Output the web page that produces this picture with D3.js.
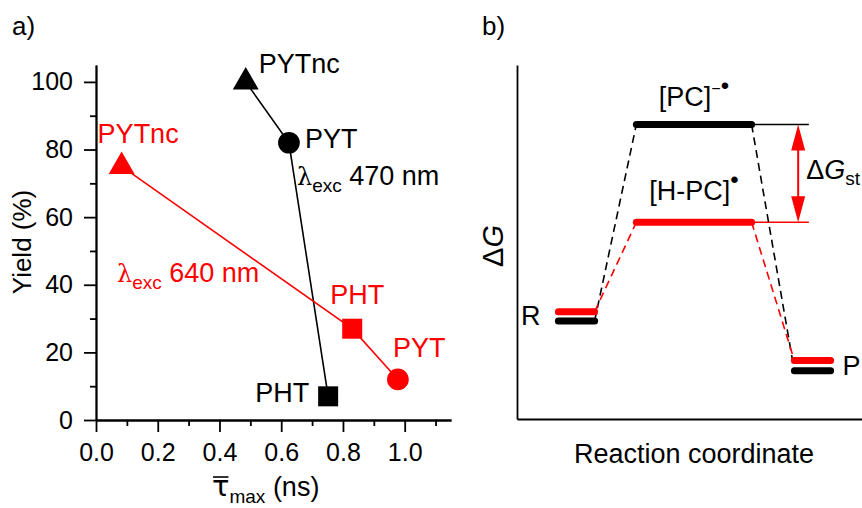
<!DOCTYPE html>
<html>
<head>
<meta charset="utf-8">
<script src="https://cdn.jsdelivr.net/npm/d3@7"></script>
<style>
  body { margin: 0; background: #fff; }
  svg { font-family: "Liberation Sans", Arial, sans-serif; }
  .axis path, .axis line { stroke: #000; stroke-width: 1.8px; }
  .axis text { font-size: 25px; fill: #000; font-family: "Liberation Sans", Arial, sans-serif; }
</style>
</head>
<body>
<svg id="chart" width="862" height="508"></svg>
<script>
// panel a) yield vs mean lifetime
var names470 = ["PYTnc", "PYT", "PHT"];
var tau470 = [0.485, 0.625, 0.752];
var yield470 = [100, 82, 7];

var names640 = ["PYTnc", "PHT", "PYT"];
var tau640 = [0.083, 0.83, 0.978];
var yield640 = [75, 27, 12];

var xMajor = [0, 0.2, 0.4, 0.6, 0.8, 1.0];
var xMinor = [0.1, 0.3, 0.5, 0.7, 0.9, 1.1];
var yMajor = [0, 20, 40, 60, 80, 100];
var yMinor = [10, 30, 50, 70, 90];

// panel b) energy diagram (schematic)
var stageNames = ["R", "I", "P"];
var stageStart = [0.12, 0.346, 0.804];
var stageEnd = [0.225, 0.68, 0.909];
var energyBlack = [27.7, 83.2, 13.6];
var energyRed = [30.3, 55.6, 16.5];

var svg = d3.select("#chart");

// ---------- panel a ----------
var x = d3.scaleLinear().domain([0, 1.15]).range([96, 451]);
var y = d3.scaleLinear().domain([0, 105]).range([420, 65]);

var ga = svg.append("g");

ga.append("g").attr("class", "axis")
    .attr("transform", "translate(0,420)")
    .call(d3.axisBottom(x).tickValues(xMinor).tickSize(6).tickSizeOuter(0).tickFormat(""));
ga.append("g").attr("class", "axis")
    .attr("transform", "translate(0,420)")
    .call(d3.axisBottom(x).tickValues(xMajor).tickSize(12).tickSizeOuter(0)
        .tickPadding(11).tickFormat(d3.format(".1f")));
ga.append("g").attr("class", "axis")
    .attr("transform", "translate(96,0)")
    .call(d3.axisLeft(y).tickValues(yMinor).tickSize(6).tickSizeOuter(0).tickFormat(""));
ga.append("g").attr("class", "axis")
    .attr("transform", "translate(96,0)")
    .call(d3.axisLeft(y).tickValues(yMajor).tickSize(12).tickSizeOuter(0).tickPadding(11));

// axis titles
ga.append("text")
    .attr("transform", "translate(31,242) rotate(-90)")
    .attr("text-anchor", "middle")
    .style("font-size", "26px")
    .text("Yield (%)");

var xt = ga.append("text")
    .attr("x", 212).attr("y", 496)
    .style("font-size", "27px");
xt.append("tspan").style("font-family", "'DejaVu Sans', sans-serif").style("font-size", "29px").text("\u03C4");
xt.append("tspan").attr("dy", 7).style("font-size", "19px").text("max");
xt.append("tspan").attr("dy", -7).text(" (ns)");
// overline on tau
var tb = xt.node().getExtentOfChar(0);
ga.append("line")
    .attr("x1", tb.x + 1).attr("x2", tb.x + tb.width - 1)
    .attr("y1", 477).attr("y2", 477)
    .attr("stroke", "#000").attr("stroke-width", 1.6);

ga.append("text").attr("x", 12).attr("y", 35)
    .style("font-size", "26px").text("a)");

var shapeOf = {
    PYTnc: d3.symbol().type(d3.symbolTriangle).size(290),
    PYT: d3.symbol().type(d3.symbolCircle).size(370),
    PHT: d3.symbol().type(d3.symbolSquare).size(400)
};

function drawSeries(names, taus, ylds, color, labelOff) {
    var pts = names.map(function(n, i) { return {name: n, t: taus[i], v: ylds[i]}; });
    ga.append("path")
        .datum(pts)
        .attr("fill", "none")
        .attr("stroke", color)
        .attr("stroke-width", 1.6)
        .attr("d", d3.line().x(function(d) { return x(d.t); }).y(function(d) { return y(d.v); }));
    ga.selectAll(null).data(pts).enter().append("path")
        .attr("transform", function(d) { return "translate(" + x(d.t) + "," + y(d.v) + ")"; })
        .attr("d", function(d) { return shapeOf[d.name](); })
        .attr("fill", color);
    ga.selectAll(null).data(pts).enter().append("text")
        .attr("x", function(d, i) { return x(d.t) + labelOff[i][0]; })
        .attr("y", function(d, i) { return y(d.v) + labelOff[i][1]; })
        .attr("text-anchor", function(d, i) { return labelOff[i][2]; })
        .attr("fill", color)
        .style("font-size", "27px")
        .text(function(d) { return d.name; });
}

drawSeries(names470, tau470, yield470, "#000",
    [[13, -9, "start"], [16, 5, "start"], [-19, 6, "end"]]);
drawSeries(names640, tau640, yield640, "#ff0000",
    [[-24, -23, "start"], [-22, -25, "start"], [-5, -22, "start"]]);

function lambdaLabel(px, py, nm, color) {
    var t = ga.append("text").attr("x", px).attr("y", py)
        .attr("fill", color).style("font-size", "27px");
    t.append("tspan").style("font-family", "'DejaVu Serif', 'Liberation Serif', serif")
        .style("font-size", "24px").text("\u03BB");
    t.append("tspan").attr("dy", 7).style("font-size", "19px").text("exc");
    t.append("tspan").attr("dy", -7).text(" " + nm + " nm");
}
lambdaLabel(297, 185, 470, "#000");
lambdaLabel(117, 282, 640, "#ff0000");

// ---------- panel b ----------
var xb = d3.scaleLinear().domain([0, 1]).range([517, 862]);
var yb = d3.scaleLinear().domain([0, 100]).range([419, 65]);
var gb = svg.append("g");

gb.append("g").attr("class", "axis")
    .attr("transform", "translate(0,419)")
    .call(d3.axisBottom(xb).tickValues([]).tickSizeOuter(0));
gb.append("g").attr("class", "axis")
    .attr("transform", "translate(517,0)")
    .call(d3.axisLeft(yb).tickValues([]).tickSizeOuter(0));

gb.append("text").attr("x", 482).attr("y", 35)
    .style("font-size", "26px").text("b)");

var dg = gb.append("text")
    .attr("transform", "translate(503,246) rotate(-90)")
    .attr("text-anchor", "middle")
    .style("font-size", "29px");
dg.append("tspan").text("\u0394");
dg.append("tspan").style("font-style", "italic").text("G");

gb.append("text").attr("x", 694).attr("y", 463)
    .attr("text-anchor", "middle")
    .style("font-size", "27px")
    .text("Reaction coordinate");

// reference lines from the intermediate levels out to the arrow
var xRef = 0.846;
[[energyBlack[1], "#000"], [energyRed[1], "#ff0000"]].forEach(function(r) {
    gb.append("line")
        .attr("x1", xb(stageEnd[1])).attr("x2", xb(xRef))
        .attr("y1", yb(r[0])).attr("y2", yb(r[0]))
        .attr("stroke", r[1]).attr("stroke-width", 1.5);
});

function drawProfile(en, color) {
    // dashed connectors
    for (var i = 0; i < en.length - 1; i++) {
        gb.append("line")
            .attr("x1", xb(stageEnd[i])).attr("y1", yb(en[i]))
            .attr("x2", xb(stageStart[i + 1])).attr("y2", yb(en[i + 1]))
            .attr("stroke", color).attr("stroke-width", 1.6)
            .attr("stroke-dasharray", "8,5");
    }
    gb.selectAll(null).data(en).enter().append("line")
        .attr("x1", function(d, i) { return xb(stageStart[i]); })
        .attr("x2", function(d, i) { return xb(stageEnd[i]); })
        .attr("y1", function(d) { return yb(d); })
        .attr("y2", function(d) { return yb(d); })
        .attr("stroke", color).attr("stroke-width", 7)
        .attr("stroke-linecap", "round");
}
drawProfile(energyBlack, "#000");
drawProfile(energyRed, "#ff0000");

// double arrow for dG_st
var xa = xb(0.815), yTop = yb(energyBlack[1]), yBot = yb(energyRed[1]);
var hl = 26, hw = 7;
gb.append("line").attr("x1", xa).attr("x2", xa)
    .attr("y1", yTop + hl - 2).attr("y2", yBot - hl + 2)
    .attr("stroke", "#ff0000").attr("stroke-width", 2);
gb.append("path").attr("fill", "#ff0000")
    .attr("d", "M" + xa + "," + yTop + "L" + (xa - hw) + "," + (yTop + hl) + "L" + (xa + hw) + "," + (yTop + hl) + "Z");
gb.append("path").attr("fill", "#ff0000")
    .attr("d", "M" + xa + "," + yBot + "L" + (xa - hw) + "," + (yBot - hl) + "L" + (xa + hw) + "," + (yBot - hl) + "Z");

var gst = gb.append("text").attr("x", xa + 8).attr("y", (yTop + yBot) / 2 + 6)
    .style("font-size", "27px");
gst.append("tspan").text("\u0394");
gst.append("tspan").style("font-style", "italic").text("G");
gst.append("tspan").attr("dy", 6).style("font-size", "19px").text("st");

// level labels
var mid = (xb(stageStart[1]) + xb(stageEnd[1])) / 2;
var pc = gb.append("text").attr("x", mid).attr("y", yb(energyBlack[1]) - 18)
    .attr("text-anchor", "middle").style("font-size", "27px");
pc.append("tspan").text("[PC]");
pc.append("tspan").attr("dy", -12).style("font-size", "16px").text("\u2212");
pc.append("tspan").style("font-size", "24px").text("\u2022");

var hpc = gb.append("text").attr("x", mid).attr("y", yb(energyRed[1]) - 22)
    .attr("text-anchor", "middle").style("font-size", "27px");
hpc.append("tspan").text("[H-PC]");
hpc.append("tspan").attr("dy", -12).style("font-size", "24px").text("\u2022");

gb.append("text")
    .attr("x", xb(stageStart[0]) - 18)
    .attr("y", (yb(energyBlack[0]) + yb(energyRed[0])) / 2 + 9)
    .attr("text-anchor", "end").style("font-size", "27px").text(stageNames[0]);
gb.append("text")
    .attr("x", xb(stageEnd[2]) + 12)
    .attr("y", (yb(energyBlack[2]) + yb(energyRed[2])) / 2 + 9)
    .style("font-size", "27px").text(stageNames[2]);
</script>
</body>
</html>
